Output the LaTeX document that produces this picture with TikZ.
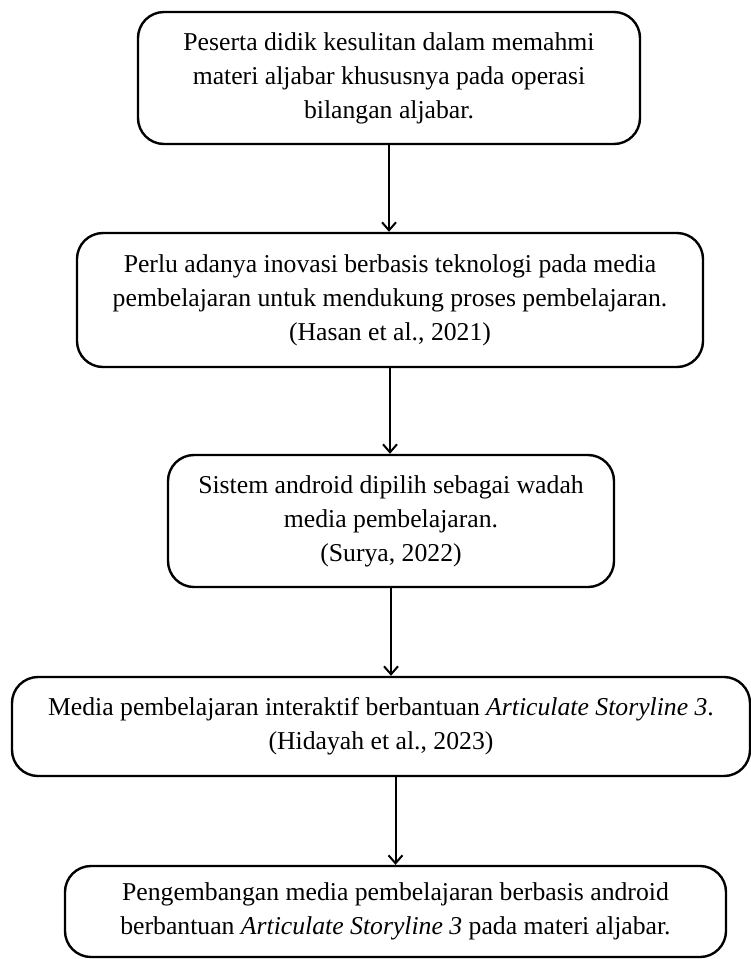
\documentclass[tikz,border=0pt]{standalone}
\usepackage{fontspec}
\setmainfont{Liberation Serif}
\usetikzlibrary{arrows.meta}
\begin{document}
\begin{tikzpicture}[x=1pt,y=-1pt,
  flowbox/.style={draw=black, line width=2.4pt, rounded corners=26pt, fill=white,
    align=center, inner sep=0pt, anchor=center,
    font=\fontsize{25.7}{34}\selectfont},
  arr/.style={line width=2pt, -{Straight Barb[length=8pt,width=14pt,line width=2pt]}}]
\useasboundingbox (0,0) rectangle (751,959);
\node[flowbox, minimum width=502pt, minimum height=132pt] (b1) at (389,78)
  {Peserta didik kesulitan dalam memahmi\\materi aljabar khususnya pada operasi\\bilangan aljabar.};
\node[flowbox, minimum width=626pt, minimum height=134pt] (b2) at (390,300)
  {Perlu adanya inovasi berbasis teknologi pada media\\pembelajaran untuk mendukung proses pembelajaran.\\(Hasan et al., 2021)};
\node[flowbox, minimum width=446pt, minimum height=132pt] (b3) at (391,521)
  {Sistem android dipilih sebagai wadah\\media pembelajaran.\\(Surya, 2022)};
\node[flowbox, minimum width=738pt, minimum height=99pt] (b4) at (381,726.5)
  {Media pembelajaran interaktif berbantuan \textit{Articulate Storyline 3}.\\(Hidayah et al., 2023)};
\node[flowbox, minimum width=661pt, minimum height=91pt] (b5) at (395.5,911.5)
  {Pengembangan media pembelajaran berbasis android\\berbantuan \textit{Articulate Storyline 3} pada materi aljabar.};
\draw[arr] (b1.south) -- (b1.south |- b2.north);
\draw[arr] (b2.south) -- (b2.south |- b3.north);
\draw[arr] (b3.south) -- (b3.south |- b4.north);
\draw[arr] (b4.south -| b5.north) -- (b5.north);
\end{tikzpicture}
\end{document}
